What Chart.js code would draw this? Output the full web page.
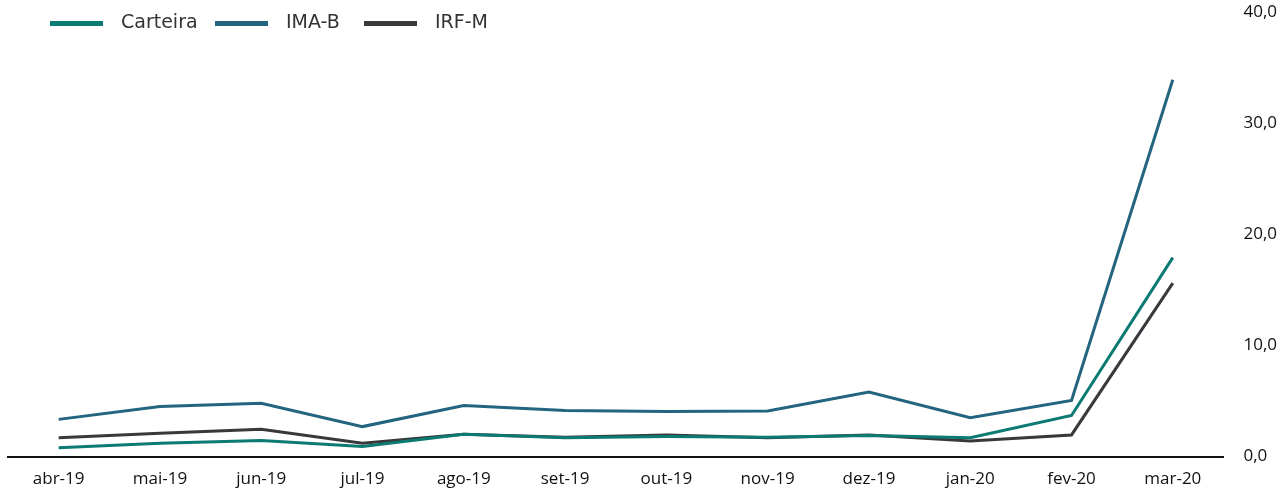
<!DOCTYPE html>
<html lang="pt">
<head>
    <meta charset="UTF-8">
    <title>Carteira x IMA-B x IRF-M</title>
    <script src="https://cdn.jsdelivr.net/npm/chart.js"></script>
    <style>
        body {
            margin: 0;
            background: #fff;
            overflow: hidden;
        }
        #wrap {
            position: relative;
            width: 1277px;
            height: 488px;
        }
        #retChart {
            display: block;
        }
        #legend {
            position: absolute;
            left: 0;
            top: 0;
            font-family: "DejaVu Sans", sans-serif;
            font-size: 19px;
            color: #333;
        }
        #legend .swatch {
            position: absolute;
            top: 21px;
            width: 53px;
            height: 5px;
        }
        #legend .txt {
            position: absolute;
            top: 10px;
            white-space: nowrap;
        }
    </style>
</head>
<body>
<div id="wrap">
    <canvas id="retChart" width="1277" height="488"></canvas>
    <div id="legend"></div>
</div>

<script>
    const months = ['abr-19', 'mai-19', 'jun-19', 'jul-19', 'ago-19', 'set-19',
                    'out-19', 'nov-19', 'dez-19', 'jan-20', 'fev-20', 'mar-20'];

    const carteira = [0.8, 1.2, 1.45, 0.9, 2.0, 1.7, 1.8, 1.75, 1.9, 1.7, 3.7, 17.9];
    const imaB     = [3.35, 4.5, 4.8, 2.7, 4.6, 4.15, 4.05, 4.1, 5.8, 3.5, 5.05, 33.9];
    const irfM     = [1.7, 2.1, 2.45, 1.2, 2.0, 1.75, 1.95, 1.7, 1.95, 1.4, 1.95, 15.6];

    const series = [
        { label: 'Carteira', data: carteira, color: '#0b7a72' },
        { label: 'IMA-B', data: imaB, color: '#23647f' },
        { label: 'IRF-M', data: irfM, color: '#38383d' }
    ];

    // legend as html, it sits over the plot area in the original
    const legendX = [50, 215, 364];
    const legendEl = document.getElementById('legend');
    series.forEach((s, i) => {
        legendEl.innerHTML +=
            '<span class="swatch" style="left:' + legendX[i] + 'px;background:' + s.color + '"></span>' +
            '<span class="txt" style="left:' + (legendX[i] + 71) + 'px">' + s.label + '</span>';
    });

    const ctx = document.getElementById('retChart').getContext('2d');
    new Chart(ctx, {
        type: 'line',
        data: {
            labels: months,
            datasets: series.map(s => ({
                label: s.label,
                data: s.data,
                borderColor: s.color,
                backgroundColor: s.color,
                borderWidth: 3,
                pointRadius: 0,
                tension: 0
            }))
        },
        options: {
            responsive: false,
            animation: false,
            layout: {
                padding: { left: 8, top: 12, right: 0, bottom: -13 }
            },
            plugins: {
                legend: { display: false },
                tooltip: { enabled: false }
            },
            scales: {
                x: {
                    offset: true,
                    grid: { display: false, drawTicks: false },
                    border: { display: true, color: '#111', width: 2 },
                    ticks: {
                        color: '#111',
                        padding: 12,
                        maxRotation: 0,
                        font: { family: 'Open Sans', size: 17 }
                    }
                },
                y: {
                    position: 'right',
                    min: 0,
                    max: 40,
                    // gap to the labels comes from an invisible tick, tick padding would also push the plot down
                    grid: { display: false, drawTicks: true, tickLength: 20 },
                    border: { display: false },
                    ticks: {
                        stepSize: 10,
                        color: '#111',
                        padding: 0,
                        font: { family: 'Open Sans', size: 17 },
                        callback: v => v.toFixed(1).replace('.', ',')
                    }
                }
            }
        }
    });
</script>
</body>
</html>
